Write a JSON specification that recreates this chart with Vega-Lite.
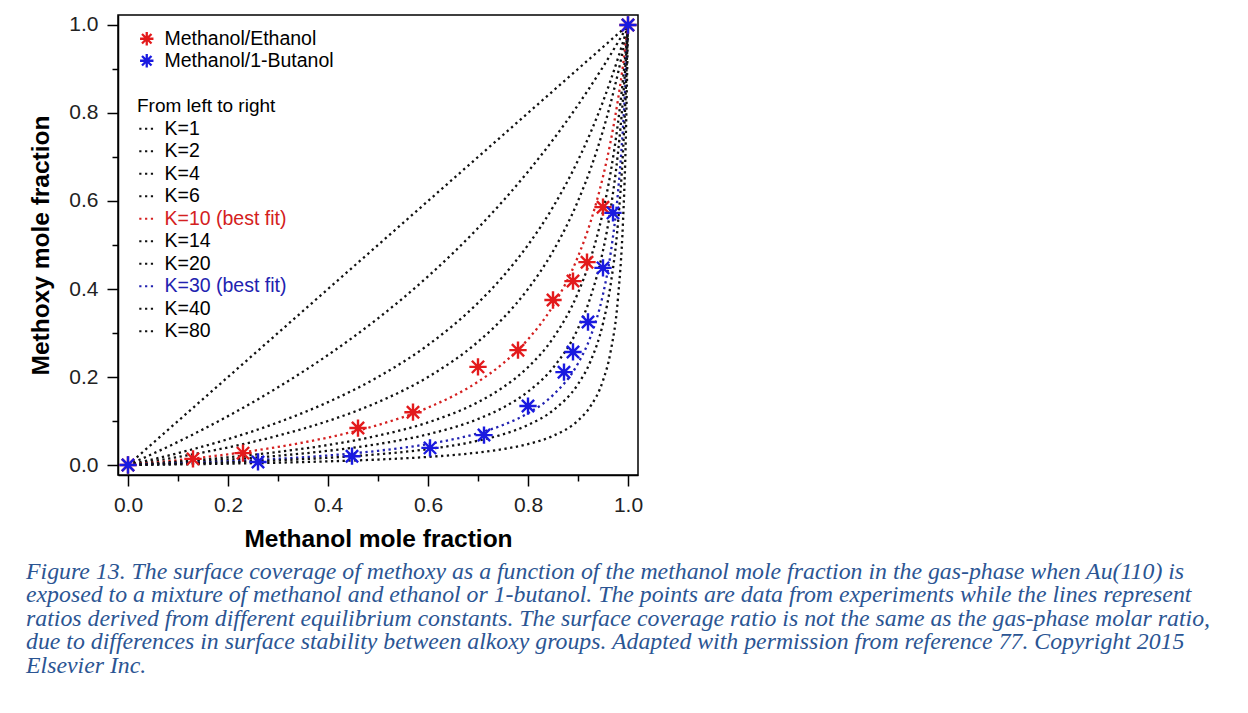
{
  "$schema": "https://vega.github.io/schema/vega-lite/v6.json",
  "width": 520,
  "height": 460,
  "autosize": "none",
  "padding": {"left": 118, "top": 15, "right": 610, "bottom": 238},
  "background": "white",
  "config": {
    "font": "Liberation Sans",
    "view": {"stroke": "black", "strokeWidth": 1.5}
  },
  "title": {
    "text": [
      "Figure 13. The surface coverage of methoxy as a function of the methanol mole fraction in the gas-phase when Au(110) is",
      "exposed to a mixture of methanol and ethanol or 1-butanol. The points are data from experiments while the lines represent",
      "ratios derived from different equilibrium constants. The surface coverage ratio is not the same as the gas-phase molar ratio,",
      "due to differences in surface stability between alkoxy groups. Adapted with permission from reference 77. Copyright 2015",
      "Elsevier Inc."
    ],
    "orient": "bottom",
    "anchor": "start",
    "frame": "group",
    "dx": -92,
    "offset": 9,
    "font": "Liberation Serif",
    "fontStyle": "italic",
    "fontWeight": "normal",
    "fontSize": 23.8,
    "lineHeight": 23.5,
    "color": "#2b5593"
  },
  "datasets": {
    "points": [
      {"series": "Methanol/Ethanol", "x": 0, "y": 0},
      {"series": "Methanol/Ethanol", "x": 0.13, "y": 0.014},
      {"series": "Methanol/Ethanol", "x": 0.23, "y": 0.027},
      {"series": "Methanol/Ethanol", "x": 0.46, "y": 0.084},
      {"series": "Methanol/Ethanol", "x": 0.57, "y": 0.12},
      {"series": "Methanol/Ethanol", "x": 0.70, "y": 0.223},
      {"series": "Methanol/Ethanol", "x": 0.78, "y": 0.261},
      {"series": "Methanol/Ethanol", "x": 0.85, "y": 0.375},
      {"series": "Methanol/Ethanol", "x": 0.89, "y": 0.418},
      {"series": "Methanol/Ethanol", "x": 0.918, "y": 0.461},
      {"series": "Methanol/Ethanol", "x": 0.95, "y": 0.586},
      {"series": "Methanol/Ethanol", "x": 1, "y": 1},
      {"series": "Methanol/1-Butanol", "x": 0, "y": 0},
      {"series": "Methanol/1-Butanol", "x": 0.26, "y": 0.007},
      {"series": "Methanol/1-Butanol", "x": 0.448, "y": 0.02},
      {"series": "Methanol/1-Butanol", "x": 0.604, "y": 0.039},
      {"series": "Methanol/1-Butanol", "x": 0.712, "y": 0.068},
      {"series": "Methanol/1-Butanol", "x": 0.80, "y": 0.134},
      {"series": "Methanol/1-Butanol", "x": 0.872, "y": 0.211},
      {"series": "Methanol/1-Butanol", "x": 0.89, "y": 0.257},
      {"series": "Methanol/1-Butanol", "x": 0.92, "y": 0.325},
      {"series": "Methanol/1-Butanol", "x": 0.95, "y": 0.448},
      {"series": "Methanol/1-Butanol", "x": 0.97, "y": 0.573},
      {"series": "Methanol/1-Butanol", "x": 1, "y": 1}
    ],
    "curves": [
      {"K":"K=1","x":0,"y":0},{"K":"K=1","x":0.1,"y":0.1},{"K":"K=1","x":0.2,"y":0.2},{"K":"K=1","x":0.3,"y":0.3},{"K":"K=1","x":0.4,"y":0.4},{"K":"K=1","x":0.5,"y":0.5},{"K":"K=1","x":0.6,"y":0.6},{"K":"K=1","x":0.7,"y":0.7},{"K":"K=1","x":0.75,"y":0.75},{"K":"K=1","x":0.8,"y":0.8},{"K":"K=1","x":0.85,"y":0.85},{"K":"K=1","x":0.9,"y":0.9},{"K":"K=1","x":0.925,"y":0.925},{"K":"K=1","x":0.95,"y":0.95},{"K":"K=1","x":0.965,"y":0.965},{"K":"K=1","x":0.98,"y":0.98},{"K":"K=1","x":0.99,"y":0.99},{"K":"K=1","x":0.995,"y":0.995},{"K":"K=1","x":1,"y":1},
      {"K":"K=2","x":0,"y":0},{"K":"K=2","x":0.1,"y":0.0526},{"K":"K=2","x":0.2,"y":0.1111},{"K":"K=2","x":0.3,"y":0.1765},{"K":"K=2","x":0.4,"y":0.25},{"K":"K=2","x":0.5,"y":0.3333},{"K":"K=2","x":0.6,"y":0.4286},{"K":"K=2","x":0.7,"y":0.5385},{"K":"K=2","x":0.75,"y":0.6},{"K":"K=2","x":0.8,"y":0.6667},{"K":"K=2","x":0.85,"y":0.7391},{"K":"K=2","x":0.9,"y":0.8182},{"K":"K=2","x":0.925,"y":0.8605},{"K":"K=2","x":0.95,"y":0.9048},{"K":"K=2","x":0.965,"y":0.9324},{"K":"K=2","x":0.98,"y":0.9608},{"K":"K=2","x":0.99,"y":0.9802},{"K":"K=2","x":0.995,"y":0.99},{"K":"K=2","x":1,"y":1},
      {"K":"K=4","x":0,"y":0},{"K":"K=4","x":0.1,"y":0.027},{"K":"K=4","x":0.2,"y":0.0588},{"K":"K=4","x":0.3,"y":0.0968},{"K":"K=4","x":0.4,"y":0.1429},{"K":"K=4","x":0.5,"y":0.2},{"K":"K=4","x":0.6,"y":0.2727},{"K":"K=4","x":0.7,"y":0.3684},{"K":"K=4","x":0.75,"y":0.4286},{"K":"K=4","x":0.8,"y":0.5},{"K":"K=4","x":0.85,"y":0.5862},{"K":"K=4","x":0.9,"y":0.6923},{"K":"K=4","x":0.925,"y":0.7551},{"K":"K=4","x":0.95,"y":0.8261},{"K":"K=4","x":0.965,"y":0.8733},{"K":"K=4","x":0.98,"y":0.9245},{"K":"K=4","x":0.99,"y":0.9612},{"K":"K=4","x":0.995,"y":0.9803},{"K":"K=4","x":1,"y":1},
      {"K":"K=6","x":0,"y":0},{"K":"K=6","x":0.1,"y":0.0182},{"K":"K=6","x":0.2,"y":0.04},{"K":"K=6","x":0.3,"y":0.0667},{"K":"K=6","x":0.4,"y":0.1},{"K":"K=6","x":0.5,"y":0.1429},{"K":"K=6","x":0.6,"y":0.2},{"K":"K=6","x":0.7,"y":0.28},{"K":"K=6","x":0.75,"y":0.3333},{"K":"K=6","x":0.8,"y":0.4},{"K":"K=6","x":0.85,"y":0.4857},{"K":"K=6","x":0.9,"y":0.6},{"K":"K=6","x":0.925,"y":0.6727},{"K":"K=6","x":0.95,"y":0.76},{"K":"K=6","x":0.965,"y":0.8213},{"K":"K=6","x":0.98,"y":0.8909},{"K":"K=6","x":0.99,"y":0.9429},{"K":"K=6","x":0.995,"y":0.9707},{"K":"K=6","x":1,"y":1},
      {"K":"K=10 (best fit)","x":0,"y":0},{"K":"K=10 (best fit)","x":0.1,"y":0.011},{"K":"K=10 (best fit)","x":0.2,"y":0.0244},{"K":"K=10 (best fit)","x":0.3,"y":0.0411},{"K":"K=10 (best fit)","x":0.4,"y":0.0625},{"K":"K=10 (best fit)","x":0.5,"y":0.0909},{"K":"K=10 (best fit)","x":0.6,"y":0.1304},{"K":"K=10 (best fit)","x":0.7,"y":0.1892},{"K":"K=10 (best fit)","x":0.75,"y":0.2308},{"K":"K=10 (best fit)","x":0.8,"y":0.2857},{"K":"K=10 (best fit)","x":0.85,"y":0.3617},{"K":"K=10 (best fit)","x":0.9,"y":0.4737},{"K":"K=10 (best fit)","x":0.925,"y":0.5522},{"K":"K=10 (best fit)","x":0.95,"y":0.6552},{"K":"K=10 (best fit)","x":0.965,"y":0.7338},{"K":"K=10 (best fit)","x":0.98,"y":0.8305},{"K":"K=10 (best fit)","x":0.99,"y":0.9083},{"K":"K=10 (best fit)","x":0.995,"y":0.9522},{"K":"K=10 (best fit)","x":1,"y":1},
      {"K":"K=14","x":0,"y":0},{"K":"K=14","x":0.1,"y":0.0079},{"K":"K=14","x":0.2,"y":0.0175},{"K":"K=14","x":0.3,"y":0.0297},{"K":"K=14","x":0.4,"y":0.0455},{"K":"K=14","x":0.5,"y":0.0667},{"K":"K=14","x":0.6,"y":0.0968},{"K":"K=14","x":0.7,"y":0.1429},{"K":"K=14","x":0.75,"y":0.1765},{"K":"K=14","x":0.8,"y":0.2222},{"K":"K=14","x":0.85,"y":0.2881},{"K":"K=14","x":0.9,"y":0.3913},{"K":"K=14","x":0.925,"y":0.4684},{"K":"K=14","x":0.95,"y":0.5758},{"K":"K=14","x":0.965,"y":0.6632},{"K":"K=14","x":0.98,"y":0.7778},{"K":"K=14","x":0.99,"y":0.8761},{"K":"K=14","x":0.995,"y":0.9343},{"K":"K=14","x":1,"y":1},
      {"K":"K=20","x":0,"y":0},{"K":"K=20","x":0.1,"y":0.0055},{"K":"K=20","x":0.2,"y":0.0123},{"K":"K=20","x":0.3,"y":0.021},{"K":"K=20","x":0.4,"y":0.0323},{"K":"K=20","x":0.5,"y":0.0476},{"K":"K=20","x":0.6,"y":0.0698},{"K":"K=20","x":0.7,"y":0.1045},{"K":"K=20","x":0.75,"y":0.1304},{"K":"K=20","x":0.8,"y":0.1667},{"K":"K=20","x":0.85,"y":0.2208},{"K":"K=20","x":0.9,"y":0.3103},{"K":"K=20","x":0.925,"y":0.3814},{"K":"K=20","x":0.95,"y":0.4872},{"K":"K=20","x":0.965,"y":0.5796},{"K":"K=20","x":0.98,"y":0.7101},{"K":"K=20","x":0.99,"y":0.8319},{"K":"K=20","x":0.995,"y":0.9087},{"K":"K=20","x":1,"y":1},
      {"K":"K=30 (best fit)","x":0,"y":0},{"K":"K=30 (best fit)","x":0.1,"y":0.0037},{"K":"K=30 (best fit)","x":0.2,"y":0.0083},{"K":"K=30 (best fit)","x":0.3,"y":0.0141},{"K":"K=30 (best fit)","x":0.4,"y":0.0217},{"K":"K=30 (best fit)","x":0.5,"y":0.0323},{"K":"K=30 (best fit)","x":0.6,"y":0.0476},{"K":"K=30 (best fit)","x":0.7,"y":0.0722},{"K":"K=30 (best fit)","x":0.75,"y":0.0909},{"K":"K=30 (best fit)","x":0.8,"y":0.1176},{"K":"K=30 (best fit)","x":0.85,"y":0.1589},{"K":"K=30 (best fit)","x":0.9,"y":0.2308},{"K":"K=30 (best fit)","x":0.925,"y":0.2913},{"K":"K=30 (best fit)","x":0.95,"y":0.3878},{"K":"K=30 (best fit)","x":0.965,"y":0.4789},{"K":"K=30 (best fit)","x":0.98,"y":0.6203},{"K":"K=30 (best fit)","x":0.99,"y":0.7674},{"K":"K=30 (best fit)","x":0.995,"y":0.869},{"K":"K=30 (best fit)","x":1,"y":1},
      {"K":"K=40","x":0,"y":0},{"K":"K=40","x":0.1,"y":0.0028},{"K":"K=40","x":0.2,"y":0.0062},{"K":"K=40","x":0.3,"y":0.0106},{"K":"K=40","x":0.4,"y":0.0164},{"K":"K=40","x":0.5,"y":0.0244},{"K":"K=40","x":0.6,"y":0.0361},{"K":"K=40","x":0.7,"y":0.0551},{"K":"K=40","x":0.75,"y":0.0698},{"K":"K=40","x":0.8,"y":0.0909},{"K":"K=40","x":0.85,"y":0.1241},{"K":"K=40","x":0.9,"y":0.1837},{"K":"K=40","x":0.925,"y":0.2357},{"K":"K=40","x":0.95,"y":0.322},{"K":"K=40","x":0.965,"y":0.408},{"K":"K=40","x":0.98,"y":0.5506},{"K":"K=40","x":0.99,"y":0.7122},{"K":"K=40","x":0.995,"y":0.8326},{"K":"K=40","x":1,"y":1},
      {"K":"K=80","x":0,"y":0},{"K":"K=80","x":0.1,"y":0.0014},{"K":"K=80","x":0.2,"y":0.0031},{"K":"K=80","x":0.3,"y":0.0053},{"K":"K=80","x":0.4,"y":0.0083},{"K":"K=80","x":0.5,"y":0.0124},{"K":"K=80","x":0.6,"y":0.0184},{"K":"K=80","x":0.7,"y":0.0283},{"K":"K=80","x":0.75,"y":0.0361},{"K":"K=80","x":0.8,"y":0.0476},{"K":"K=80","x":0.85,"y":0.0662},{"K":"K=80","x":0.9,"y":0.1011},{"K":"K=80","x":0.925,"y":0.1336},{"K":"K=80","x":0.95,"y":0.1919},{"K":"K=80","x":0.965,"y":0.2563},{"K":"K=80","x":0.98,"y":0.3799},{"K":"K=80","x":0.99,"y":0.5531},{"K":"K=80","x":0.995,"y":0.7133},{"K":"K=80","x":1,"y":1}
    ]
  },
  "encoding": {
    "x": {
      "field": "x", "type": "quantitative",
      "scale": {"domain": [-0.02, 1.02], "nice": false, "zero": false},
      "axis": {
        "orient": "bottom",
        "values": [0, 0.1, 0.2, 0.3, 0.4, 0.5, 0.6, 0.7, 0.8, 0.9, 1.0],
        "labelExpr": "round(datum.value*10) % 2 === 0 ? format(datum.value, '.1f') : ''",
        "grid": false,
        "tickSize": 11, "tickWidth": 1.5, "tickColor": "black",
        "tickDash": {"condition": {"test": "round(datum.value*10) % 2 === 1", "value": [6, 20]}, "value": []},
        "domainColor": "black", "domainWidth": 1.5,
        "labelFontSize": 21, "labelColor": "#222222", "labelPadding": 8,
        "labelFlush": false, "labelOverlap": false,
        "title": "Methanol mole fraction",
        "titleFontSize": 24.5, "titleFontWeight": "bold", "titleColor": "black", "titlePadding": 12
      }
    },
    "y": {
      "field": "y", "type": "quantitative",
      "scale": {"domain": [-0.0227, 1.0227], "nice": false, "zero": false},
      "axis": {
        "orient": "left",
        "values": [0, 0.1, 0.2, 0.3, 0.4, 0.5, 0.6, 0.7, 0.8, 0.9, 1.0],
        "labelExpr": "round(datum.value*10) % 2 === 0 ? format(datum.value, '.1f') : ''",
        "grid": false,
        "tickSize": 11, "tickWidth": 1.5, "tickColor": "black",
        "tickDash": {"condition": {"test": "round(datum.value*10) % 2 === 1", "value": [6, 20]}, "value": []},
        "domainColor": "black", "domainWidth": 1.5,
        "labelFontSize": 21, "labelColor": "#222222", "labelPadding": 9,
        "labelFlush": false, "labelOverlap": false,
        "title": "Methoxy mole fraction",
        "titleFontSize": 24.5, "titleFontWeight": "bold", "titleColor": "black", "titlePadding": 15
      }
    }
  },
  "layer": [
    {
      "data": {"name": "curves"},
      "mark": {"type": "line", "strokeWidth": 2.3, "strokeDash": [2.3, 3.5], "interpolate": "monotone", "clip": true},
      "encoding": {
        "stroke": {
          "field": "K", "type": "nominal",
          "scale": {
            "domain": ["K=1", "K=2", "K=4", "K=6", "K=10 (best fit)", "K=14", "K=20", "K=30 (best fit)", "K=40", "K=80"],
            "range": ["#111111", "#111111", "#111111", "#111111", "#d42020", "#111111", "#111111", "#2222b0", "#111111", "#111111"]
          },
          "legend": {
            "title": "From left to right",
            "orient": "none", "legendX": 19, "legendY": 82,
            "padding": 0,
            "symbolType": "stroke", "symbolSize": 225, "symbolStrokeWidth": 2.2, "symbolDash": [2.2, 3.6],
            "labelFontSize": 19.5, "labelOffset": 8, "labelColor": "black", "labelLimit": 400,
            "titleFontSize": 19, "titleFontWeight": "normal", "titleColor": "black", "titlePadding": 3, "titleLimit": 400,
            "rowPadding": 1.5,
            "encode": {
              "labels": {
                "update": {
                  "fill": [
                    {"test": "datum.value === 'K=10 (best fit)'", "value": "#d42020"},
                    {"test": "datum.value === 'K=30 (best fit)'", "value": "#2222b0"},
                    {"value": "black"}
                  ]
                }
              }
            }
          }
        }
      }
    },
    {
      "data": {"name": "points"},
      "mark": {
        "type": "point",
        "shape": "M-1,0L1,0M0,-1L0,1M-0.7071,-0.7071L0.7071,0.7071M-0.7071,0.7071L0.7071,-0.7071",
        "filled": false, "strokeWidth": 2.4, "size": 300, "opacity": 1
      },
      "encoding": {
        "color": {
          "field": "series", "type": "nominal",
          "scale": {"domain": ["Methanol/Ethanol", "Methanol/1-Butanol"], "range": ["#e31a1c", "#1a1ae0"]},
          "legend": {
            "title": null,
            "orient": "none", "legendX": 19, "legendY": 14,
            "padding": 0,
            "symbolType": "M-1,0L1,0M0,-1L0,1M-0.7071,-0.7071L0.7071,0.7071M-0.7071,0.7071L0.7071,-0.7071",
            "symbolSize": 180, "symbolStrokeWidth": 2.3, "symbolFillColor": "transparent",
            "labelFontSize": 19.5, "labelOffset": 8, "labelColor": "black", "labelLimit": 400,
            "rowPadding": -4.5
          }
        }
      }
    }
  ]
}
